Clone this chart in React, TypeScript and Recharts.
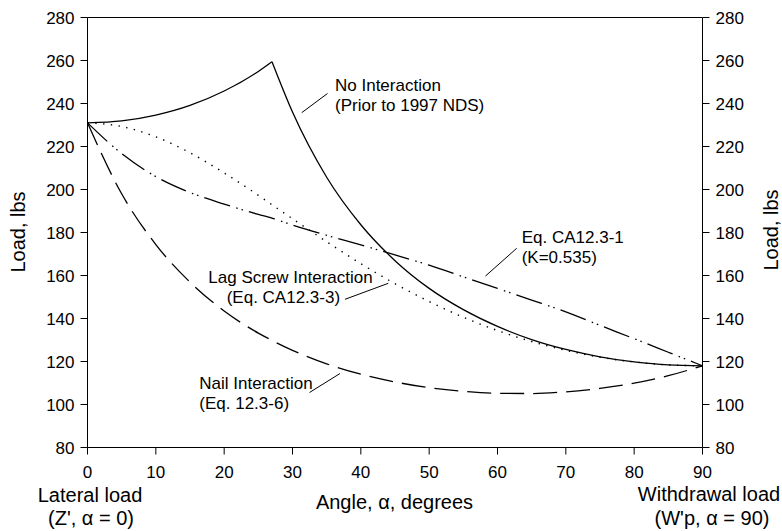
import React from 'react';
import { LineChart, Line, XAxis, YAxis, ReferenceLine } from 'recharts';

const FONT = '"Liberation Sans", Arial, sans-serif';

// angle (degrees) and load (lbs)
const angles = [0, 5, 10, 15, 20, 25, 27, 30, 35, 40, 45, 50, 55, 60, 65, 70, 75, 80, 85, 90];
const noInteraction = [231, 231.9, 234.6, 239.1, 245.8, 254.9, 259.4, 236.0, 205.7, 183.6, 166.9, 154.0, 144.1, 136.3, 130.2, 125.6, 122.2, 119.8, 118.4, 118.0];
const lagScrew = [231, 229.3, 224.5, 217.1, 207.7, 197.3, 192.9, 186.4, 175.7, 165.5, 156.2, 147.9, 140.6, 134.4, 129.3, 125.2, 122.0, 119.8, 118.4, 118.0];
const eqCA1231 = [231, 216.7, 206.0, 198.6, 193.2, 188.4, 186.7, 183.5, 178.7, 174.2, 169.6, 164.8, 159.4, 154.0, 148.6, 143.1, 136.8, 130.6, 124.3, 118.0];
const nailInteraction = [231, 198.0, 174.4, 156.9, 143.5, 133.2, 129.8, 125.2, 118.9, 114.1, 110.5, 107.8, 106.1, 105.2, 105.1, 105.9, 107.5, 109.9, 113.4, 118.0];

const xTicks = [0, 10, 20, 30, 40, 50, 60, 70, 80, 90];
const yTicks = [80, 100, 120, 140, 160, 180, 200, 220, 240, 260, 280];

// the no-interaction curve has a kink at its peak, so draw it as two pieces
const peakIdx = noInteraction.indexOf(Math.max(...noInteraction));

const chartData = angles.map((angle, i) => ({
    angle,
    noIntRise: i <= peakIdx ? noInteraction[i] : null,
    noIntFall: i >= peakIdx ? noInteraction[i] : null,
    lag: lagScrew[i],
    eq: eqCA1231[i],
    nail: nailInteraction[i],
}));

const axisStyle = {
    axisLine: { stroke: '#000', strokeWidth: 1 },
    tickLine: { stroke: '#000', strokeWidth: 1 },
    tick: { fill: '#000', fontSize: 17, fontFamily: FONT },
    tickSize: 7,
};

export default function App() {
    return (
        <div style={{ position: 'absolute', left: 0, top: 0, width: 782, height: 531, fontFamily: FONT, background: '#fff' }}>
            <LineChart
                width={782}
                height={531}
                data={chartData}
                margin={{ top: 17.5, right: 19.5, bottom: 53.5, left: 27.5 }}
            >
                <XAxis
                    type="number"
                    dataKey="angle"
                    domain={[0, 90]}
                    ticks={xTicks}
                    interval={0}
                    height={30}
                    tickMargin={11}
                    {...axisStyle}
                />
                <YAxis
                    yAxisId="left"
                    type="number"
                    domain={[80, 280]}
                    ticks={yTicks}
                    interval={0}
                    width={60}
                    tickMargin={6}
                    {...axisStyle}
                />
                <YAxis
                    yAxisId="right"
                    type="number"
                    orientation="right"
                    domain={[80, 280]}
                    ticks={yTicks}
                    interval={0}
                    width={60}
                    tickMargin={6}
                    {...axisStyle}
                />
                <ReferenceLine yAxisId="right" y={280} stroke="#000" strokeWidth={1} />

                {/* both axes share the same 80-280 scale; the solid curve is bound to the right one */}
                <Line yAxisId="right" type="monotone" dataKey="noIntRise" stroke="#000" strokeWidth={1.3} dot={false} activeDot={false} isAnimationActive={false} />
                <Line yAxisId="right" type="monotone" dataKey="noIntFall" stroke="#000" strokeWidth={1.3} dot={false} activeDot={false} isAnimationActive={false} />
                <Line yAxisId="left" type="monotone" dataKey="lag" stroke="#000" strokeWidth={1.4} strokeDasharray="1.4 6.4" dot={false} activeDot={false} isAnimationActive={false} />
                <Line yAxisId="left" type="monotone" dataKey="eq" stroke="#000" strokeWidth={1.3} strokeDasharray="27 6.5 1.5 4 1.5 6.2" dot={false} activeDot={false} isAnimationActive={false} />
                <Line yAxisId="left" type="monotone" dataKey="nail" stroke="#000" strokeWidth={1.3} strokeDasharray="24 9" dot={false} activeDot={false} isAnimationActive={false} />
            </LineChart>

            {/* titles and callouts */}
            <svg width={782} height={531} style={{ position: 'absolute', left: 0, top: 0, pointerEvents: 'none' }}>
                <g fill="#000" fontFamily={FONT}>
                    <text x={25} y={232} fontSize={20} textAnchor="middle" transform="rotate(-90 25 232)">Load, lbs</text>
                    <text x={778} y={230} fontSize={20} textAnchor="middle" transform="rotate(-90 778 230)">Load, lbs</text>

                    <text x={394.5} y={509} fontSize={20} textAnchor="middle">Angle, α, degrees</text>
                    <text x={90} y={502} fontSize={20} textAnchor="middle">Lateral load</text>
                    <text x={91} y={525} fontSize={20} textAnchor="middle">(Z', α = 0)</text>
                    <text x={709} y={501} fontSize={20} textAnchor="middle">Withdrawal load</text>
                    <text x={712} y={525} fontSize={20} textAnchor="middle">(W'p, α = 90)</text>

                    <text x={335} y={90.5} fontSize={17}>No Interaction</text>
                    <text x={335} y={111} fontSize={17}>(Prior to 1997 NDS)</text>
                    <text x={521.7} y={242.5} fontSize={17}>Eq. CA12.3-1</text>
                    <text x={521.7} y={262.5} fontSize={17}>(K=0.535)</text>
                    <text x={208.3} y={282.5} fontSize={17}>Lag Screw Interaction</text>
                    <text x={226.7} y={302.5} fontSize={17}>(Eq. CA12.3-3)</text>
                    <text x={199.3} y={388.5} fontSize={17}>Nail Interaction</text>
                    <text x={199.3} y={408.8} fontSize={17}>(Eq. 12.3-6)</text>
                </g>
                <g stroke="#000" strokeWidth={1}>
                    <line x1={327.5} y1={93.5} x2={301.7} y2={112.7} />
                    <line x1={516.7} y1={248.3} x2={485.5} y2={276} />
                    <line x1={345} y1={299.3} x2={388.3} y2={283.3} />
                    <line x1={309.5} y1={392.5} x2={340} y2={373.5} />
                </g>
            </svg>
        </div>
    );
}
